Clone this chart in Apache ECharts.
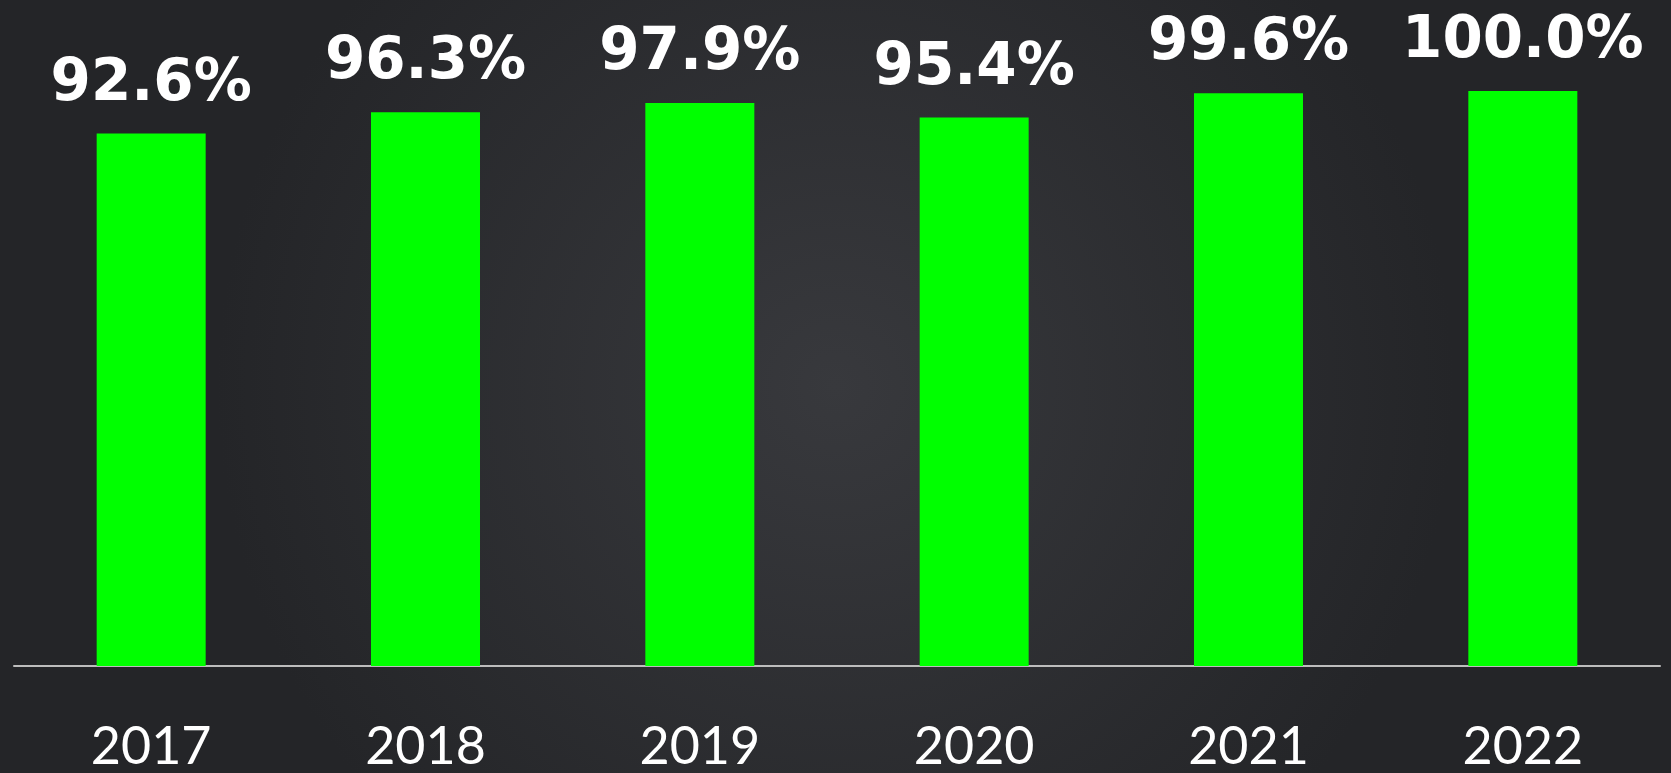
<!DOCTYPE html>
<html>
<head>
<meta charset="utf-8">
<script src="https://cdn.jsdelivr.net/npm/echarts@6/dist/echarts.min.js"></script>
<style>
  html, body { margin: 0; padding: 0; background: #2a2b2e; }
  #chart { width: 1671px; height: 773px; }
</style>
</head>
<body>
<div id="chart"></div>
<script>
var years = ['2017', '2018', '2019', '2020', '2021', '2022'];
var rates = [92.6, 96.3, 97.9, 95.4, 99.6, 100.0];

var chart = echarts.init(document.getElementById('chart'));
var option = {
    backgroundColor: {
        type: 'radial', x: 0.5, y: 0.5, r: 0.8,
        colorStops: [
            { offset: 0, color: '#38393d' },
            { offset: 1, color: '#242528' }
        ]
    },
    grid: {
        left: 14,
        right: 11,
        top: 91,
        bottom: 102
    },
    xAxis: {
        type: 'category',
        data: years,
        axisLine: { lineStyle: { color: '#bdbdbd', width: 2 } },
        axisTick: { show: false },
        axisLabel: {
            color: '#ffffff',
            fontFamily: '"Comic Sans MS", "Lato", sans-serif',
            fontSize: 52,
            margin: 55
        }
    },
    yAxis: {
        type: 'value',
        min: 0,
        max: 100,
        show: false,
        splitLine: { show: false }
    },
    series: [{
        type: 'bar',
        data: rates,
        barWidth: 109,
        itemStyle: { color: '#00ff00' },
        label: {
            show: true,
            position: 'top',
            distance: 20,
            color: '#ffffff',
            fontFamily: '"Comic Sans MS", "DejaVu Sans", sans-serif',
            fontWeight: 'bold',
            fontSize: 58,
            formatter: function (p) { return p.value.toFixed(1) + '%'; }
        }
    }]
};
chart.setOption(option);
</script>
</body>
</html>
